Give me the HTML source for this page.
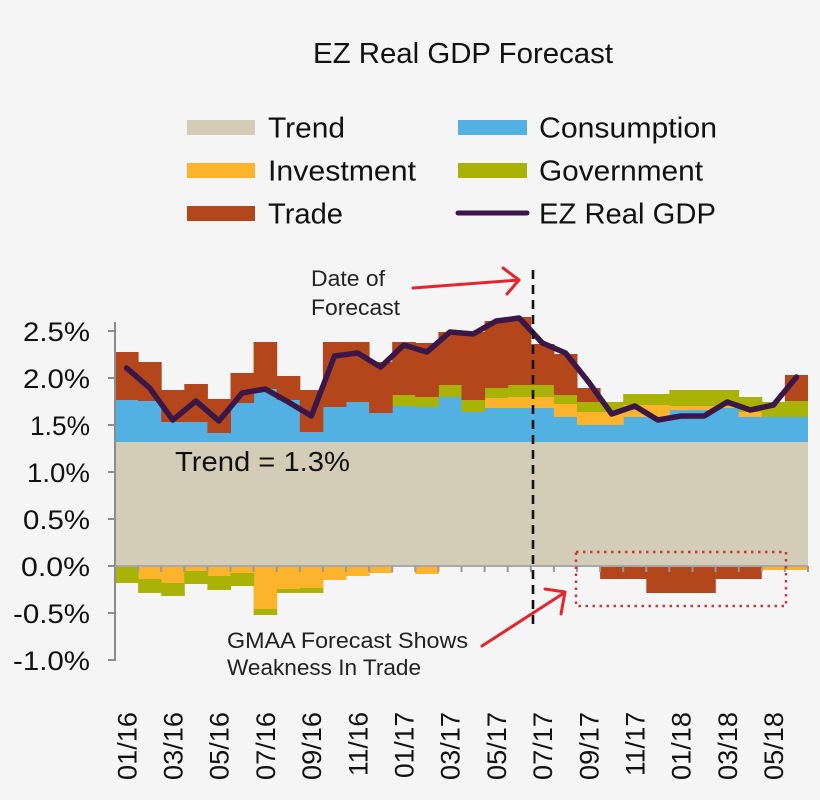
<!DOCTYPE html>
<html><head><meta charset="utf-8"><style>
html,body{margin:0;padding:0;background:#f5f5f5;}
svg{display:block;font-family:"Liberation Sans",sans-serif;}
</style></head><body>
<svg width="820" height="800" viewBox="0 0 820 800" xmlns="http://www.w3.org/2000/svg">
<rect width="820" height="800" fill="#f5f5f5"/>
<text x="463" y="63" text-anchor="middle" font-size="29" fill="#111" textLength="300" lengthAdjust="spacingAndGlyphs">EZ Real GDP Forecast</text>
<g font-size="29" fill="#111">
<rect x="187" y="120" width="68" height="15" fill="#d3cdb8"/>
<text x="268" y="137.5" textLength="77" lengthAdjust="spacingAndGlyphs">Trend</text>
<rect x="187" y="163" width="68" height="15" fill="#fdb32b"/>
<text x="268" y="180.5" textLength="148" lengthAdjust="spacingAndGlyphs">Investment</text>
<rect x="187" y="206" width="68" height="15" fill="#b4461c"/>
<text x="268" y="223.5" textLength="75" lengthAdjust="spacingAndGlyphs">Trade</text>
<rect x="458" y="120" width="69" height="15" fill="#52b0e3"/>
<text x="539" y="137.5" textLength="178" lengthAdjust="spacingAndGlyphs">Consumption</text>
<rect x="458" y="163" width="69" height="15" fill="#a9b307"/>
<text x="539" y="180.5" textLength="164" lengthAdjust="spacingAndGlyphs">Government</text>
<line x1="458" y1="213" x2="527" y2="213" stroke="#3b1748" stroke-width="5" stroke-linecap="round"/>
<text x="539" y="223.5" textLength="177" lengthAdjust="spacingAndGlyphs">EZ Real GDP</text>
</g>
<!-- trend -->
<rect x="115" y="442" width="693" height="124" fill="#d3cdb8"/>
<!-- blue -->
<g fill="#52b0e3">
<rect x="115" y="400" width="23.6" height="42"/>
<rect x="138.1" y="401" width="23.6" height="41"/>
<rect x="161.2" y="422" width="23.6" height="20"/>
<rect x="184.3" y="422" width="23.6" height="20"/>
<rect x="207.4" y="433" width="23.6" height="9"/>
<rect x="230.5" y="403" width="23.6" height="39"/>
<rect x="253.6" y="389" width="23.6" height="53"/>
<rect x="276.7" y="400" width="23.6" height="42"/>
<rect x="299.8" y="432" width="23.6" height="10"/>
<rect x="322.9" y="407" width="23.6" height="35"/>
<rect x="346" y="402" width="23.6" height="40"/>
<rect x="369.1" y="413" width="23.6" height="29"/>
<rect x="392.2" y="406" width="23.6" height="36"/>
<rect x="415.3" y="407" width="23.6" height="35"/>
<rect x="438.4" y="397" width="23.6" height="45"/>
<rect x="461.5" y="412" width="23.6" height="30"/>
<rect x="484.6" y="408" width="23.6" height="34"/>
<rect x="507.7" y="408" width="23.6" height="34"/>
<rect x="530.8" y="408" width="23.6" height="34"/>
<rect x="553.9" y="417" width="23.6" height="25"/>
<rect x="577" y="425" width="23.6" height="17"/>
<rect x="600.1" y="425" width="23.6" height="17"/>
<rect x="623.2" y="417" width="23.6" height="25"/>
<rect x="646.3" y="417" width="23.6" height="25"/>
<rect x="669.4" y="410" width="23.6" height="32"/>
<rect x="692.5" y="410" width="23.6" height="32"/>
<rect x="715.6" y="408" width="23.6" height="34"/>
<rect x="738.7" y="417" width="23.6" height="25"/>
<rect x="761.8" y="417" width="23.6" height="25"/>
<rect x="784.9" y="417" width="23.1" height="25"/>
</g>
<!-- yellow positive -->
<g fill="#fdb32b">
<rect x="484.6" y="398" width="23.6" height="10"/>
<rect x="507.7" y="397" width="23.6" height="11"/>
<rect x="530.8" y="397" width="23.6" height="11"/>
<rect x="553.9" y="404" width="23.6" height="13"/>
<rect x="577" y="412" width="23.6" height="13"/>
<rect x="600.1" y="412" width="23.6" height="13"/>
<rect x="623.2" y="405" width="23.6" height="12"/>
<rect x="646.3" y="405" width="23.6" height="12"/>
<rect x="669.4" y="406" width="23.6" height="4"/>
<rect x="692.5" y="406" width="23.6" height="4"/>
<rect x="715.6" y="406" width="23.6" height="2"/>
<rect x="738.7" y="412" width="23.6" height="5"/>
</g>
<!-- green positive -->
<g fill="#a9b307">
<rect x="392.2" y="395" width="23.6" height="11"/>
<rect x="415.3" y="397" width="23.6" height="10"/>
<rect x="438.4" y="385" width="23.6" height="12"/>
<rect x="461.5" y="400" width="23.6" height="12"/>
<rect x="484.6" y="388" width="23.6" height="10"/>
<rect x="507.7" y="385" width="23.6" height="12"/>
<rect x="530.8" y="385" width="23.6" height="12"/>
<rect x="553.9" y="395" width="23.6" height="9"/>
<rect x="577" y="402" width="23.6" height="10"/>
<rect x="600.1" y="402" width="23.6" height="10"/>
<rect x="623.2" y="394" width="23.6" height="11"/>
<rect x="646.3" y="394" width="23.6" height="11"/>
<rect x="669.4" y="390" width="23.6" height="16"/>
<rect x="692.5" y="390" width="23.6" height="16"/>
<rect x="715.6" y="390" width="23.6" height="16"/>
<rect x="738.7" y="397" width="23.6" height="15"/>
<rect x="761.8" y="402" width="23.6" height="15"/>
<rect x="784.9" y="401" width="23.1" height="16"/>
</g>
<!-- trade positive -->
<g fill="#b4461c">
<rect x="115" y="352" width="23.6" height="48"/>
<rect x="138.1" y="362" width="23.6" height="39"/>
<rect x="161.2" y="390" width="23.6" height="32"/>
<rect x="184.3" y="384" width="23.6" height="38"/>
<rect x="207.4" y="399" width="23.6" height="34"/>
<rect x="230.5" y="373" width="23.6" height="30"/>
<rect x="253.6" y="342" width="23.6" height="47"/>
<rect x="276.7" y="376" width="23.6" height="24"/>
<rect x="299.8" y="390" width="23.6" height="42"/>
<rect x="322.9" y="342" width="23.6" height="65"/>
<rect x="346" y="342" width="23.6" height="60"/>
<rect x="369.1" y="362" width="23.6" height="51"/>
<rect x="392.2" y="342" width="23.6" height="53"/>
<rect x="415.3" y="343" width="23.6" height="54"/>
<rect x="438.4" y="332" width="23.6" height="53"/>
<rect x="461.5" y="332" width="23.6" height="68"/>
<rect x="484.6" y="321" width="23.6" height="67"/>
<rect x="507.7" y="317" width="23.6" height="68"/>
<rect x="530.8" y="344" width="23.6" height="41"/>
<rect x="553.9" y="354" width="23.6" height="41"/>
<rect x="577" y="388" width="23.6" height="14"/>
<rect x="784.9" y="375" width="23.1" height="26"/>
</g>
<!-- negatives -->
<g fill="#fdb32b">
<rect x="138.1" y="566" width="23.6" height="13"/>
<rect x="161.2" y="566" width="23.6" height="17"/>
<rect x="184.3" y="566" width="23.6" height="5"/>
<rect x="207.4" y="566" width="23.6" height="10"/>
<rect x="230.5" y="566" width="23.6" height="7"/>
<rect x="253.6" y="566" width="23.6" height="43"/>
<rect x="276.7" y="566" width="23.6" height="23"/>
<rect x="299.8" y="566" width="23.6" height="22"/>
<rect x="322.9" y="566" width="23.6" height="14"/>
<rect x="346" y="566" width="23.6" height="10"/>
<rect x="369.1" y="566" width="23.6" height="7"/>
<rect x="415.3" y="566" width="23.6" height="8"/>
<rect x="761.8" y="566" width="46.2" height="4"/>
</g>
<g fill="#a9b307">
<rect x="115" y="566" width="23.6" height="17"/>
<rect x="138.1" y="579" width="23.6" height="14"/>
<rect x="161.2" y="583" width="23.6" height="13"/>
<rect x="184.3" y="571" width="23.6" height="13"/>
<rect x="207.4" y="576" width="23.6" height="14"/>
<rect x="230.5" y="573" width="23.6" height="13"/>
<rect x="253.6" y="609" width="23.6" height="6"/>
<rect x="276.7" y="589" width="23.6" height="4"/>
<rect x="299.8" y="588" width="23.6" height="5"/>
</g>
<g fill="#b4461c">
<rect x="600.1" y="566" width="46.4" height="13"/>
<rect x="646.3" y="566" width="69.5" height="27"/>
<rect x="715.6" y="566" width="46.2" height="13"/>
</g>
<!-- axes -->
<g stroke="#8c8c8c" stroke-width="2" fill="none">
<line x1="115" y1="322" x2="115" y2="661"/>
<line x1="108" y1="331" x2="115" y2="331"/>
<line x1="108" y1="378" x2="115" y2="378"/>
<line x1="108" y1="425" x2="115" y2="425"/>
<line x1="108" y1="472" x2="115" y2="472"/>
<line x1="108" y1="519" x2="115" y2="519"/>
<line x1="108" y1="566" x2="115" y2="566"/>
<line x1="108" y1="613" x2="115" y2="613"/>
<line x1="108" y1="660" x2="115" y2="660"/>
<line x1="115" y1="566" x2="808" y2="566" stroke="#a8a8a8"/>
<path d="M138.1 566v6M161.2 566v6M184.3 566v6M207.4 566v6M230.5 566v6M253.6 566v6M276.7 566v6M299.8 566v6M322.9 566v6M346 566v6M369.1 566v6M392.2 566v6M415.3 566v6M438.4 566v6M461.5 566v6M484.6 566v6M507.7 566v6M530.8 566v6M553.9 566v6M577 566v6M600.1 566v6M623.2 566v6M646.3 566v6M669.4 566v6M692.5 566v6M715.6 566v6M738.7 566v6M761.8 566v6M784.9 566v6M808 566v6" stroke="#9a9a9a"/>
</g>
<!-- GDP line -->
<polyline fill="none" stroke="#3b1748" stroke-width="5.5" stroke-linejoin="round" stroke-linecap="round" points="126.6,368 149.7,388 172.8,420 195.9,401 219,421 242.1,393 265.2,389 288.3,402 311.4,416 334.5,356 357.6,353 380.7,367 403.8,345 426.9,352 450,332 473.1,334 496.2,321 519.3,318 542.4,343 565.5,353 588.6,382 611.7,414 634.8,406 657.9,420 681,416 704.1,416 727.2,402 750.3,410 773.4,405 796.5,377"/>
<!-- dashed forecast line -->
<line x1="533" y1="270" x2="533" y2="625" stroke="#111" stroke-width="2.6" stroke-dasharray="9 6"/>
<!-- y labels -->
<g font-size="27" fill="#111" text-anchor="end">
<text x="90" y="341" textLength="67" lengthAdjust="spacingAndGlyphs">2.5%</text>
<text x="90" y="388" textLength="67" lengthAdjust="spacingAndGlyphs">2.0%</text>
<text x="90" y="435" textLength="60" lengthAdjust="spacingAndGlyphs">1.5%</text>
<text x="90" y="482" textLength="63" lengthAdjust="spacingAndGlyphs">1.0%</text>
<text x="90" y="529" textLength="67" lengthAdjust="spacingAndGlyphs">0.5%</text>
<text x="90" y="576" textLength="69" lengthAdjust="spacingAndGlyphs">0.0%</text>
<text x="90" y="623" textLength="77" lengthAdjust="spacingAndGlyphs">-0.5%</text>
<text x="90" y="670" textLength="77" lengthAdjust="spacingAndGlyphs">-1.0%</text>
</g>
<!-- x labels -->
<g font-size="27" fill="#111" text-anchor="end">
<text transform="translate(136.3,712) rotate(-90)" textLength="68" lengthAdjust="spacingAndGlyphs">01/16</text>
<text transform="translate(182.5,712) rotate(-90)" textLength="68" lengthAdjust="spacingAndGlyphs">03/16</text>
<text transform="translate(228.7,712) rotate(-90)" textLength="68" lengthAdjust="spacingAndGlyphs">05/16</text>
<text transform="translate(274.9,712) rotate(-90)" textLength="68" lengthAdjust="spacingAndGlyphs">07/16</text>
<text transform="translate(321.1,712) rotate(-90)" textLength="68" lengthAdjust="spacingAndGlyphs">09/16</text>
<text transform="translate(367.3,712) rotate(-90)" textLength="64" lengthAdjust="spacingAndGlyphs">11/16</text>
<text transform="translate(413.5,712) rotate(-90)" textLength="66" lengthAdjust="spacingAndGlyphs">01/17</text>
<text transform="translate(459.7,712) rotate(-90)" textLength="68" lengthAdjust="spacingAndGlyphs">03/17</text>
<text transform="translate(505.9,712) rotate(-90)" textLength="68" lengthAdjust="spacingAndGlyphs">05/17</text>
<text transform="translate(552.1,712) rotate(-90)" textLength="68" lengthAdjust="spacingAndGlyphs">07/17</text>
<text transform="translate(598.3,712) rotate(-90)" textLength="68" lengthAdjust="spacingAndGlyphs">09/17</text>
<text transform="translate(644.5,712) rotate(-90)" textLength="64" lengthAdjust="spacingAndGlyphs">11/17</text>
<text transform="translate(690.7,712) rotate(-90)" textLength="68" lengthAdjust="spacingAndGlyphs">01/18</text>
<text transform="translate(736.9,712) rotate(-90)" textLength="68" lengthAdjust="spacingAndGlyphs">03/18</text>
<text transform="translate(783.1,712) rotate(-90)" textLength="68" lengthAdjust="spacingAndGlyphs">05/18</text>
</g>
<!-- annotations -->
<text x="175" y="471" font-size="28" fill="#111" textLength="175" lengthAdjust="spacingAndGlyphs">Trend = 1.3%</text>
<g font-size="22" fill="#222">
<text x="311" y="286" textLength="74" lengthAdjust="spacingAndGlyphs">Date of</text>
<text x="311" y="315" textLength="89" lengthAdjust="spacingAndGlyphs">Forecast</text>
<text x="227" y="648" textLength="241" lengthAdjust="spacingAndGlyphs">GMAA Forecast Shows</text>
<text x="227" y="675" textLength="194" lengthAdjust="spacingAndGlyphs">Weakness In Trade</text>
</g>
<g stroke="#e3262d" stroke-width="3" fill="none" stroke-linecap="round" stroke-linejoin="round">
<line x1="413" y1="288" x2="519" y2="280"/>
<polyline points="503,268 519,280 507,294"/>
<line x1="482" y1="646" x2="564" y2="593"/>
<polyline points="545,589 565,592 561,614"/>
</g>
<rect x="576" y="552" width="210" height="54" fill="none" stroke="#d0343c" stroke-width="2.5" stroke-dasharray="2.5 4.5"/>
</svg>
</body></html>
